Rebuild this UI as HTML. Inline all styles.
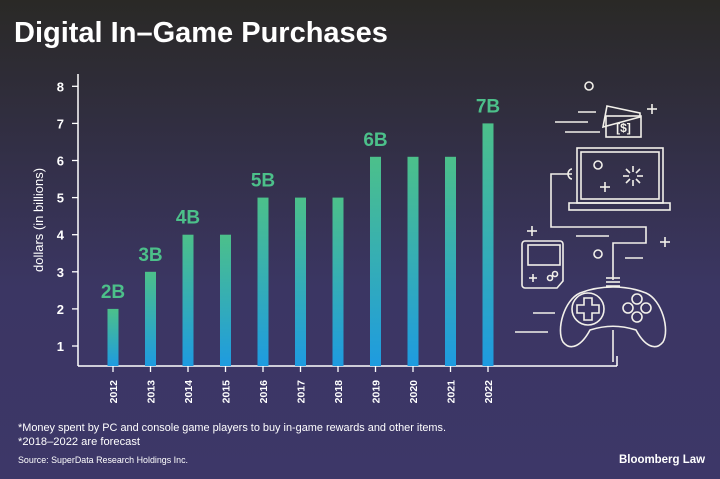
<!DOCTYPE html>
<html><head><meta charset="utf-8"><style>
html,body{margin:0;padding:0;width:720px;height:479px;overflow:hidden;background:#3c3766}
svg{display:block;font-family:"Liberation Sans",sans-serif}
</style></head><body>
<svg id="chart" width="720" height="479" viewBox="0 0 720 479">
<defs>
<linearGradient id="bg" x1="0" y1="0" x2="0" y2="1">
<stop offset="0" stop-color="#2a2926"/><stop offset="0.3" stop-color="#322f45"/><stop offset="0.6" stop-color="#3b3663"/><stop offset="1" stop-color="#3d3768"/>
</linearGradient>
<linearGradient id="barg" x1="0" y1="0" x2="0" y2="1">
<stop offset="0" stop-color="#4cc08a"/><stop offset="1" stop-color="#1e9be0"/>
</linearGradient>
</defs>
<rect width="720" height="479" fill="url(#bg)"/>
<text x="14" y="42" font-size="29" font-weight="bold" fill="#fff">Digital In–Game Purchases</text>
<text transform="translate(43,220) rotate(-90)" text-anchor="middle" font-size="13" fill="#fff">dollars (in billions)</text>
<g id="axes"></g>
<g id="bars"></g>
<g id="icons" fill="none" stroke="#f2f0ea" stroke-width="1.6">
<circle cx="589" cy="86" r="4"/>
<line x1="578" y1="112" x2="596" y2="112"/><line x1="555" y1="122" x2="588" y2="122"/><line x1="565" y1="132" x2="600" y2="132"/>
<polygon points="607,106 640,113 640,117 603,127"/>
<rect x="606" y="116" width="35" height="21"/>
<text x="623.5" y="132" text-anchor="middle" font-size="12" font-weight="bold" fill="#f2f0ea" stroke="none">[$]</text>
<line x1="647" y1="109" x2="657" y2="109"/><line x1="652" y1="104" x2="652" y2="114"/>
<rect x="577" y="148" width="86" height="55"/><rect x="581" y="152" width="78" height="47"/>
<rect x="569" y="203" width="101" height="7"/>
<circle cx="598" cy="165" r="4"/>
<line x1="600" y1="187" x2="610" y2="187"/><line x1="605" y1="182" x2="605" y2="192"/>
<g transform="translate(633,176)"><line x1="-10" y1="0" x2="-4" y2="0"/><line x1="4" y1="0" x2="10" y2="0"/><line x1="0" y1="-10" x2="0" y2="-4"/><line x1="0" y1="4" x2="0" y2="10"/><line x1="-7" y1="-7" x2="-3" y2="-3"/><line x1="3" y1="3" x2="7" y2="7"/><line x1="7" y1="-7" x2="3" y2="-3"/><line x1="-3" y1="3" x2="-7" y2="7"/></g>
<path d="M572,174 L551,174 L551,227 L646,227 L646,243 L613,243 L613,280"/>
<path d="M572,169 a4,5 0 0 0 0,10"/>
<line x1="532" y1="226" x2="532" y2="236"/><line x1="527" y1="231" x2="537" y2="231"/>
<line x1="576" y1="236" x2="609" y2="236"/>
<line x1="665" y1="237" x2="665" y2="247"/><line x1="660" y1="242" x2="670" y2="242"/>
<circle cx="598" cy="254" r="4"/><line x1="625" y1="258" x2="643" y2="258"/>
<path d="M525,241 h35 a3,3 0 0 1 3,3 v37 l-6,7 h-32 a3,3 0 0 1 -3,-3 v-41 a3,3 0 0 1 3,-3z"/>
<rect x="528" y="245" width="32" height="20"/>
<circle cx="550" cy="278" r="2.5"/><circle cx="555" cy="274" r="2.5"/>
<line x1="529" y1="278" x2="537" y2="278"/><line x1="533" y1="274" x2="533" y2="282"/>
<line x1="606" y1="278" x2="620" y2="278"/><line x1="606" y1="282" x2="620" y2="282"/><line x1="606" y1="286" x2="620" y2="286"/>
<path d="M580,293 C600,285 626,285 646,293 C662,300 670,330 663,342 C655,352 644,345 636,330 C620,325 606,325 590,330 C582,345 571,352 563,342 C556,330 564,300 580,293Z"/>
<circle cx="588" cy="309" r="16"/>
<path d="M584,298 h8 v7 h7 v8 h-7 v7 h-8 v-7 h-7 v-8 h7z"/>
<circle cx="637" cy="299" r="5"/><circle cx="637" cy="317" r="5"/><circle cx="628" cy="308" r="5"/><circle cx="646" cy="308" r="5"/>
<line x1="613" y1="330" x2="613" y2="362"/>
<line x1="533" y1="313" x2="555" y2="313"/><line x1="515" y1="332" x2="548" y2="332"/>
</g>
<text x="18" y="431" font-size="11" fill="#fff" textLength="428" lengthAdjust="spacingAndGlyphs">*Money spent by PC and console game players to buy in-game rewards and other items.</text>
<text x="18" y="445" font-size="11" fill="#fff" textLength="122" lengthAdjust="spacingAndGlyphs">*2018–2022 are forecast</text>
<text x="18" y="463" font-size="9.5" fill="#fff" textLength="170" lengthAdjust="spacingAndGlyphs">Source: SuperData Research Holdings Inc.</text>
<text x="705" y="463" text-anchor="end" font-size="12" font-weight="bold" fill="#fff" textLength="86" lengthAdjust="spacingAndGlyphs">Bloomberg Law</text>
</svg>
<script>
const categories=["2012","2013","2014","2015","2016","2017","2018","2019","2020","2021","2022"];
const values=[2,3,4,4,5,5,5,6.1,6.1,6.1,7];
const barLabels=["2B","3B","4B","","5B","","","6B","","","7B"];
const yTicks=[1,2,3,4,5,6,7,8];
const NS="http://www.w3.org/2000/svg";
function yScale(v){return 346-(v-1)*37.1;}
function xScale(i){return 113+i*37.5;}
const baseY=366;
function mk(tag,attrs,parent){const e=document.createElementNS(NS,tag);for(const k in attrs)e.setAttribute(k,attrs[k]);parent.appendChild(e);return e;}
const axes=document.getElementById('axes'),bars=document.getElementById('bars');
let a=mk('line',{x1:78,y1:74,x2:78,y2:baseY,stroke:'#fff','stroke-width':1.5},axes);


a=mk('line',{x1:78,y1:baseY,x2:617,y2:baseY,stroke:'#fff','stroke-width':1.5},axes);


a=mk('line',{x1:617,y1:baseY,x2:617,y2:356,stroke:'#fff','stroke-width':1.5},axes);


yTicks.forEach(t=>{const y=yScale(t);
 const l=mk('line',{x1:72,y1:y,x2:78,y2:y,stroke:'#fff','stroke-width':1.3},axes);
 
 
 const tx=mk('text',{x:64,y:y+5,'text-anchor':'end','font-size':13,'font-weight':'bold',fill:'#fff'},axes);
 tx.textContent=t;
 
 
});
categories.forEach((c,i)=>{const x=xScale(i);const top=yScale(values[i]);
 const r=mk('rect',{x:x-5.5,y:top,width:11,height:baseY-top,fill:'url(#barg)'},bars);
 
 
 const tk=mk('line',{x1:x,y1:baseY,x2:x,y2:372,stroke:'#fff','stroke-width':1.3},axes);
 
 
 const yl=mk('text',{transform:`translate(${x+4},380) rotate(-90)`,'text-anchor':'end','font-size':10.5,'font-weight':'bold',fill:'#fff'},axes);
 yl.textContent=c;
 
 
 if(barLabels[i]){const bl=mk('text',{x:x,y:top-11,'text-anchor':'middle','font-size':19,'font-weight':'bold',fill:'#4cc08a'},bars);
 bl.textContent=barLabels[i];
 
 }
});
</script>
</body></html>
